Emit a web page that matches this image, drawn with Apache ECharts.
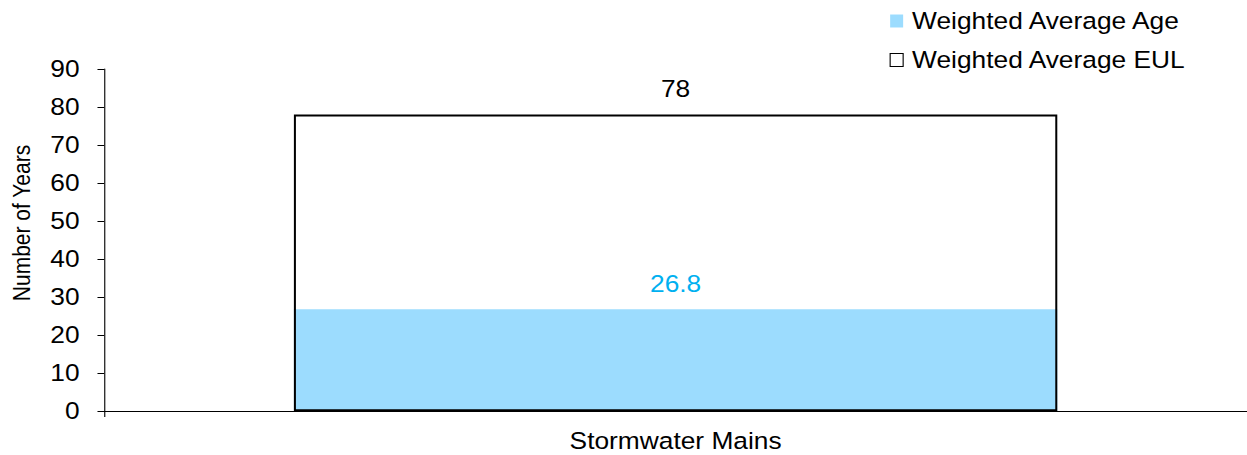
<!DOCTYPE html>
<html>
<head>
<meta charset="utf-8">
<script src="https://cdn.jsdelivr.net/npm/echarts@6/dist/echarts.min.js"></script>
<style>
  html, body { margin: 0; padding: 0; background: #fff; overflow: hidden; }
  /* chart is laid out slightly narrower and widened to the full window */
  #chart { width: 1113px; height: 455px; transform: scaleX(1.12039); transform-origin: 0 0; }
</style>
</head>
<body>
<div id="chart"></div>
<script>
const categories = ['Stormwater Mains'];
const seriesNames = ['Weighted Average Age', 'Weighted Average EUL'];
const ageValues = [26.8];
const eulValues = [78];
const yTicks = { min: 0, max: 90, interval: 10 };

const FONT = '"Liberation Sans", Arial, sans-serif';
const FS = 23.5;
const AGE_FILL = '#9cdcfe';
const AGE_LABEL = '#00b0f0';

const chart = echarts.init(document.getElementById('chart'), null, { renderer: 'svg' });

chart.setOption({
  animation: false,
  textStyle: { fontFamily: FONT },
  grid: { left: 93, right: 0, top: 69, bottom: 44 },
  legend: {
    orient: 'vertical',
    left: 794,
    top: 9,
    padding: 0,
    itemWidth: 11.6,
    itemHeight: 13,
    itemGap: 15,
    icon: 'rect',
    textStyle: { fontFamily: FONT, fontSize: FS, color: '#000', padding: [0, 0, 0, 3] },
    data: [
      { name: seriesNames[0], itemStyle: { color: AGE_FILL, borderWidth: 0 } },
      { name: seriesNames[1], itemStyle: { color: '#fff', borderColor: '#000', borderWidth: 1 } }
    ]
  },
  xAxis: {
    type: 'category',
    data: categories,
    axisLine: { lineStyle: { color: '#000', width: 1 } },
    axisTick: { show: true, alignWithLabel: false, length: 6, lineStyle: { color: '#000' } },
    axisLabel: { fontFamily: FONT, fontSize: FS, color: '#000', margin: 18 }
  },
  yAxis: {
    type: 'value',
    min: yTicks.min,
    max: yTicks.max,
    interval: yTicks.interval,
    name: 'Number of Years',
    nameLocation: 'middle',
    nameGap: 63,
    // extra left padding lifts the rotated title a little above the axis centre
    nameTextStyle: { fontFamily: FONT, fontSize: 21, color: '#000', padding: [0, 0, 0, 34] },
    splitLine: { show: false },
    axisLine: { show: true, lineStyle: { color: '#000', width: 1 } },
    axisTick: { show: true, length: 6, lineStyle: { color: '#000' } },
    axisLabel: { fontFamily: FONT, fontSize: FS, color: '#000', margin: 22 }
  },
  series: [
    {
      name: seriesNames[0],
      type: 'bar',
      data: ageValues,
      barWidth: '66.8%',
      barGap: '-100%',
      itemStyle: { color: AGE_FILL },
      label: {
        show: true, position: 'top', distance: 14,
        fontFamily: FONT, fontSize: FS, color: AGE_LABEL
      },
      z: 2
    },
    {
      name: seriesNames[1],
      type: 'bar',
      data: eulValues,
      barWidth: '66.8%',
      barGap: '-100%',
      itemStyle: { color: 'rgba(0,0,0,0)', borderColor: '#000', borderWidth: 1.8 },
      label: {
        show: true, position: 'top', distance: 14,
        fontFamily: FONT, fontSize: FS, color: '#000'
      },
      z: 3
    }
  ]
});
</script>
</body>
</html>
